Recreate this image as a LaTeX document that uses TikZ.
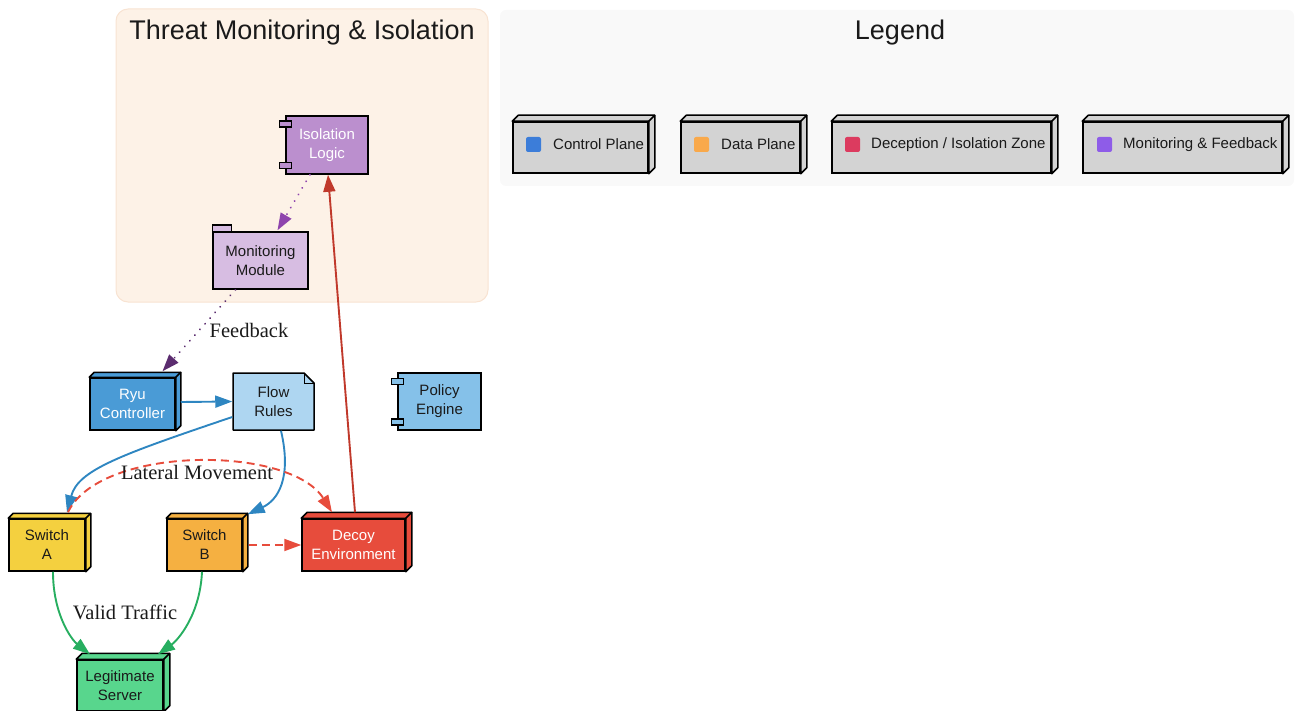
\documentclass[tikz,border=0pt]{standalone}
\usepackage{fontspec}
\setmainfont{Liberation Serif}
\setsansfont{Liberation Sans}
\usetikzlibrary{arrows.meta,calc}
\definecolor{cRyu}{HTML}{4A9BD6}
\definecolor{cFlow}{HTML}{AED6F1}
\definecolor{cPol}{HTML}{85C1E9}
\definecolor{cIso}{HTML}{BB8FCE}
\definecolor{cMon}{HTML}{D7BDE2}
\definecolor{cSwA}{HTML}{F4D03F}
\definecolor{cSwB}{HTML}{F5B041}
\definecolor{cDec}{HTML}{E74C3C}
\definecolor{cLeg}{HTML}{58D68D}
\definecolor{cClu}{HTML}{FDF2E7}
\definecolor{cCluB}{HTML}{F8E3D2}
\definecolor{cLgBg}{HTML}{F9F9F9}
\definecolor{cGray}{HTML}{D3D3D3}
\definecolor{eBlue}{HTML}{2E86C1}
\definecolor{eRed}{HTML}{E74C3C}
\definecolor{eRedD}{HTML}{C0392B}
\definecolor{eGreen}{HTML}{27AE60}
\definecolor{ePur}{HTML}{8E44AD}
\definecolor{ePurD}{HTML}{5B2C6F}
\definecolor{sqBlue}{HTML}{3C7DD9}
\definecolor{sqOrange}{HTML}{F9A94B}
\definecolor{sqRed}{HTML}{DC3B5F}
\definecolor{sqPurple}{HTML}{8E5CE8}
\definecolor{txt}{HTML}{1A1A1A}
\newcommand\extrude[3][5pt]{%
  \filldraw[fill=#3,line width=1.5pt,line join=round] (#2.north west) -- ++(#1,#1) -- ([shift={(#1,#1)}]#2.north east) -- ([shift={(#1,#1)}]#2.south east) -- (#2.south east) -- (#2.north east) -- cycle;
  \draw[line width=1.5pt] (#2.north east) -- ++(#1,#1);}
\newcommand\comptabs[2]{%
  \draw[fill=#2,line width=1.5pt] ([xshift=-6pt,yshift=-6pt]#1.north west) rectangle ++(12pt,-6pt);
  \draw[fill=#2,line width=1.5pt] ([xshift=-6pt,yshift=6pt]#1.south west) rectangle ++(12pt,6pt);}
\tikzset{
  nd/.style={draw=black,line width=1.5pt,font=\sffamily\fontsize{15}{19}\selectfont,align=center,text=txt,inner sep=0pt},
  lbl/.style={font=\rmfamily\fontsize{20.5}{24}\selectfont,text=txt,inner sep=1pt},
  legbox/.style={draw=black,line width=1.5pt,fill=cGray,minimum height=51pt,inner sep=0pt},
  legtxt/.style={anchor=west,font=\sffamily\fontsize{15}{18}\selectfont,text=txt,inner sep=0pt},
  tip/.style={-{Triangle[length=17pt,width=12pt]}},
  edge/.style={line width=1.9pt,tip},
  dotline/.style={line width=2pt,dash pattern=on 0.1pt off 7.5pt,line cap=round},
}
\begin{document}
\begin{tikzpicture}[x=1pt,y=-1pt]
\useasboundingbox (0,0) rectangle (1295,711);
% clusters
\fill[cLgBg,rounded corners=6pt] (500,10) rectangle (1294,186);
\filldraw[fill=cClu,draw=cCluB,line width=1pt,rounded corners=12pt] (116,9) rectangle (488,302);
\node[font=\sffamily\fontsize{27}{30}\selectfont,text=txt] (t1) at (302,33) {Threat Monitoring \& Isolation};
\node[font=\sffamily\fontsize{27}{30}\selectfont,text=txt] (t2) at (900,33) {Legend};
% nodes
\node[nd,fill=cIso,text=white,minimum width=82pt,minimum height=58pt] (iso) at (327,145) {Isolation\\Logic};
\node[nd,fill=cMon,minimum width=95pt,minimum height=57pt] (mon) at (260.5,260.5) {Monitoring\\Module};
\node[nd,fill=cRyu,text=white,minimum width=85pt,minimum height=52pt] (ryu) at (132.5,404) {Ryu\\Controller};
\path (273.5,401.5) coordinate (fc);
\draw[fill=cFlow,line width=1.5pt,line join=round] ($(fc)+(-40.5pt,28.5pt)$) -- ($(fc)+(30.5pt,28.5pt)$) -- ($(fc)+(40.5pt,18.5pt)$) -- ($(fc)+(40.5pt,-28.5pt)$) -- ($(fc)+(-40.5pt,-28.5pt)$) -- cycle;
\draw[line width=1pt] ($(fc)+(30.5pt,28.5pt)$) -- ($(fc)+(30.5pt,18.5pt)$) -- ($(fc)+(40.5pt,18.5pt)$);
\node[nd,draw=none,minimum width=81pt,minimum height=57pt] (flow) at (fc) {Flow\\Rules};
\node[nd,fill=cPol,minimum width=83pt,minimum height=57pt] (pol) at (439.5,401.5) {Policy\\Engine};
\node[nd,fill=cSwA,minimum width=76pt,minimum height=52pt] (swA) at (47,545) {Switch\\A};
\node[nd,fill=cSwB,minimum width=75pt,minimum height=52pt] (swB) at (204.5,545) {Switch\\B};
\node[nd,fill=cDec,text=white,minimum width=103pt,minimum height=52pt] (dec) at (353.5,545) {Decoy\\Environment};
\node[nd,fill=cLeg,minimum width=86pt,minimum height=51pt] (leg) at (120,685.5) {Legitimate\\Server};
% shape details
\comptabs{iso}{cIso}
\comptabs{pol}{cPol}
\draw[fill=cMon,line width=1.5pt] (mon.north west) -- ++(0pt,6pt) -- ++(19pt,0pt) -- ++(0pt,-6pt);
\extrude{ryu}{cRyu}
\extrude{swA}{cSwA}
\extrude{swB}{cSwB}
\extrude[6pt]{dec}{cDec}
\extrude[6pt]{leg}{cLeg}
% legend
\node[legbox,minimum width=135pt] (l1) at (580.5,147.5) {};
\node[legbox,minimum width=119pt] (l2) at (740.5,147.5) {};
\node[legbox,minimum width=219pt] (l3) at (941.5,147.5) {};
\node[legbox,minimum width=199pt] (l4) at (1182.5,147.5) {};
\extrude[6pt]{l1}{cGray}
\extrude[6pt]{l2}{cGray}
\extrude[6pt]{l3}{cGray}
\extrude[6pt]{l4}{cGray}
\fill[sqBlue,rounded corners=2pt] (526,137) rectangle (541,152);
\fill[sqOrange,rounded corners=2pt] (694,137) rectangle (709,152);
\fill[sqRed,rounded corners=2pt] (845,137) rectangle (860,152);
\fill[sqPurple,rounded corners=2pt] (1097,137) rectangle (1112,152);
\node[legtxt] (lt1) at (553,144.5) {Control Plane};
\node[legtxt] (lt2) at (721,144.5) {Data Plane};
\node[legtxt] (lt3) at (871,144.5) {Deception / Isolation Zone};
\node[legtxt] (lt4) at (1123,144.5) {Monitoring \& Feedback};
% edges
\draw[dotline,ePur,tip] ([xshift=-17pt]iso.south) -- ([xshift=17pt,yshift=1pt]mon.north);
\draw[dotline,ePurD,tip] ([xshift=-25pt]mon.south) -- ([xshift=30pt,yshift=6pt]ryu.north);
\node[lbl] (fb) at (249,330) {Feedback};
\draw[edge,eBlue] ([xshift=5pt,yshift=2pt]ryu.east) -- (flow.west);
\draw[edge,eBlue] ([yshift=-15.5pt]flow.west) .. controls (120,455) and (78,470) .. ([xshift=20pt,yshift=6pt]swA.north);
\draw[edge,eBlue] ([xshift=7.5pt]flow.south) .. controls (292,478) and (278,500) .. ([xshift=5pt,yshift=4pt]swB.north east);
\draw[edge,eRed,dash pattern=on 8pt off 5pt] ([xshift=21pt,yshift=6pt]swA.north) .. controls (100,445) and (290,445) .. ([xshift=-21.5pt,yshift=6pt]dec.north);
\node[lbl] (lm) at (197,472) {Lateral Movement};
\draw[edge,eRed,dash pattern=on 8pt off 5pt] ([xshift=6pt]swB.east) -- (dec.west);
\draw[edge,eRedD] ([xshift=1.5pt,yshift=6pt]dec.north) -- ([xshift=1pt]iso.south);
\draw[edge,eGreen] ([xshift=6pt]swA.south) .. controls (53,615) and (72,640) .. ([xshift=-30pt,yshift=5pt]leg.north);
\draw[edge,eGreen] ([xshift=-2.5pt]swB.south) .. controls (200,615) and (178,640) .. ([xshift=38pt,yshift=5pt]leg.north);
\node[lbl] (vt) at (125,612) {Valid Traffic};
\end{tikzpicture}
\end{document}
